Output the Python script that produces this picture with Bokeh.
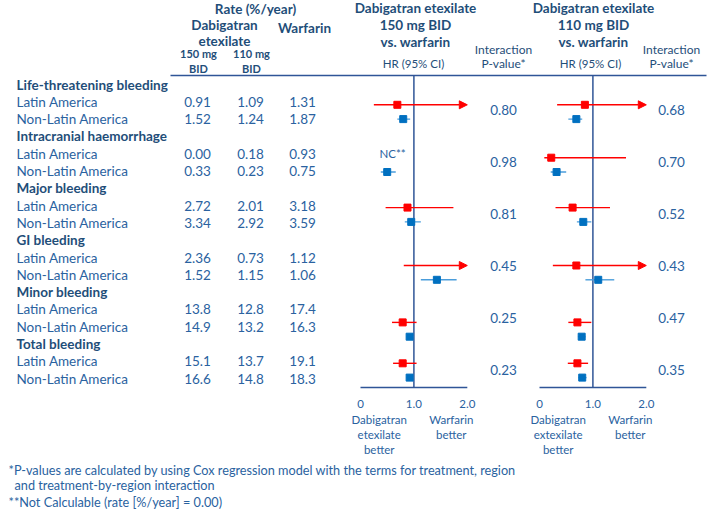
from bokeh.plotting import figure
from bokeh.models import Range1d, ColumnDataSource, Arrow, NormalHead
from bokeh.embed import file_html
from bokeh.resources import INLINE
from bokeh.core.properties import value

# ---------------- data ----------------
categories = ["Life-threatening bleeding", "Intracranial haemorrhage", "Major bleeding",
              "GI bleeding", "Minor bleeding", "Total bleeding"]
regions = ["Latin America", "Non-Latin America"]

rate_150 = [0.91, 1.52, 0.00, 0.33, 2.72, 3.34, 2.36, 1.52, 13.8, 14.9, 15.1, 16.6]
rate_110 = [1.09, 1.24, 0.18, 0.23, 2.01, 2.92, 0.73, 1.15, 12.8, 13.2, 13.7, 14.8]
rate_warf = [1.31, 1.87, 0.93, 0.75, 3.18, 3.59, 1.12, 1.06, 17.4, 16.3, 19.1, 18.3]

# HR (95% CI), 150 mg vs warfarin (None = not calculable)
hr_150 = [0.69, 0.80, None, 0.50, 0.88, 0.95, 2.20, 1.43, 0.79, 0.92, 0.79, 0.92]
lo_150 = [0.25, 0.69, None, 0.38, 0.47, 0.83, 0.81, 1.13, 0.59, 0.86, 0.61, 0.86]
hi_150 = [2.60, 0.93, None, 0.66, 1.74, 1.13, 6.00, 1.80, 1.05, 0.99, 1.05, 0.99]
# HR (95% CI), 110 mg vs warfarin
hr_110 = [0.85, 0.69, 0.22, 0.32, 0.62, 0.82, 0.69, 1.10, 0.71, 0.79, 0.71, 0.80]
lo_110 = [0.33, 0.54, 0.09, 0.21, 0.30, 0.70, 0.25, 0.86, 0.54, 0.72, 0.53, 0.73]
hi_110 = [2.20, 0.80, 1.62, 0.50, 1.32, 0.97, 2.40, 1.40, 0.97, 0.86, 0.91, 0.88]

p_150 = ["0.80", "0.98", "0.81", "0.45", "0.25", "0.23"]
p_110 = ["0.68", "0.70", "0.52", "0.43", "0.47", "0.35"]

axis_ticks = [0, 1, 2]
axis_tick_labels = ["0", "1.0", "2.0"]

# ---------------- style / layout ----------------
FONT = "Lato"
C_BOLD = "#1F4E79"
C_TXT = "#2A62A0"
C_LINE = "#2F5597"
C_RED = "#FF0000"
C_BLUE = "#0070C0"
C_BLUE_LINE = "#4A9DDB"
AX_MAX = 2.0

W, H = 708, 511
UNIT = 53.4
X0_F1, X0_F2 = 360.0, 539.0
ROW0, PITCH = 84.0, 17.3
forest_shift = [1, 2, 0, 6, 11, 0]

p = figure(width=W, height=H, x_range=Range1d(0, W), y_range=Range1d(H, 0),
           output_backend="svg", toolbar_location=None, min_border=0,
           x_axis_location=None, y_axis_location=None)
p.grid.visible = False
p.outline_line_color = None
p.extra_x_ranges = {
    "f1": Range1d((0 - X0_F1) / UNIT, (W - X0_F1) / UNIT),
    "f2": Range1d((0 - X0_F2) / UNIT, (W - X0_F2) / UNIT),
}


def txt(xs, ys, texts, size, bold=False, color=C_TXT, align="center", rng="default"):
    p.text(x=xs, y=ys, text=texts, text_font=value(FONT), text_font_size=f"{size}px",
           text_font_style="bold" if bold else "normal", text_color=color,
           text_align=align, text_baseline="middle", x_range_name=rng)


def row_y(i):
    return ROW0 + PITCH * i


def fmt(v):
    return f"{v:.2f}" if v < 10 else f"{v:.1f}"


# ---------------- table header ----------------
txt([255], [8], ["Rate (%/year)"], 13.5, bold=True, color=C_BOLD)
txt([224, 224], [24, 40], ["Dabigatran", "etexilate"], 13.5, bold=True, color=C_BOLD)
txt([304], [27], ["Warfarin"], 13.5, bold=True, color=C_BOLD)
txt([198, 198, 251, 251], [53, 68, 53, 68], ["150 mg", "BID", "110 mg", "BID"], 11,
    bold=True, color=C_BOLD)

p.segment(x0=[170], x1=[706], y0=[75], y1=[75], line_color=C_LINE, line_width=1.5)

# ---------------- table body ----------------
cat_y, lab_y, lab_t = [], [], []
for g, c in enumerate(categories):
    cat_y.append(row_y(3 * g))
    for r, reg in enumerate(regions):
        lab_y.append(row_y(3 * g + 1 + r))
        lab_t.append(reg)
txt([16] * len(categories), cat_y, categories, 13.5, bold=True, color=C_BOLD, align="left")
txt([16] * len(lab_t), lab_y, lab_t, 13.5, align="left")
txt([197] * len(rate_150), lab_y, [fmt(v) for v in rate_150], 13.5)
txt([250] * len(rate_110), lab_y, [fmt(v) for v in rate_110], 13.5)
txt([302] * len(rate_warf), lab_y, [fmt(v) for v in rate_warf], 13.5)


# ---------------- forest plots ----------------
def forest(rng, hr, lo, hi, pvals, title_x, hr_x, px, dose, better_word, nc_x=None):
    # headings
    txt([title_x] * 3, [7, 24, 41], ["Dabigatran etexilate", dose, "vs. warfarin"], 13.5,
        bold=True, color=C_BOLD)
    txt([hr_x], [63], ["HR (95% CI)"], 11.5, color=C_BOLD)
    txt([px, px], [49, 63], ["Interaction", "P-value*"], 12, color=C_BOLD)
    # reference line and axis
    p.segment(x0=[1], x1=[1], y0=[75], y1=[387], line_color=C_LINE, line_width=1.5,
              x_range_name=rng)
    p.segment(x0=[axis_ticks[0]], x1=[axis_ticks[-1]], y0=[387], y1=[387],
              line_color=C_LINE, line_width=1.5, x_range_name=rng)
    txt(axis_ticks, [403] * 3, axis_tick_labels, 11.5, rng=rng)
    txt([0.35] * 3, [419, 434, 449], ["Dabigatran", better_word, "better"], 11.5, rng=rng)
    txt([1.7] * 2, [419, 434], ["Warfarin", "better"], 11.5, rng=rng)

    for color, lcolor, r in ((C_RED, C_RED, 0), (C_BLUE, C_BLUE_LINE, 1)):
        xs0, xs1, ys, mx, my, ax0, ax1, ay = [], [], [], [], [], [], [], []
        for g in range(len(categories)):
            i = 2 * g + r
            y = row_y(3 * g + 1 + r) + forest_shift[g] + (2 if r == 0 else -1)
            if lo[i] is None:
                if nc_x is not None:
                    txt([nc_x], [row_y(3 * g + 1 + r)], ["NC**"], 11.5, rng=rng)
                continue
            if hi[i] > AX_MAX:
                ax0.append(lo[i]); ax1.append(AX_MAX); ay.append(y)
            else:
                xs0.append(lo[i]); xs1.append(hi[i]); ys.append(y)
            if hr[i] <= AX_MAX:
                mx.append(hr[i]); my.append(y)
        p.segment(x0=xs0, x1=xs1, y0=ys, y1=ys, line_color=lcolor, line_width=1.4,
                  x_range_name=rng)
        if ax0:
            src = ColumnDataSource(dict(x0=ax0, x1=ax1, y=ay))
            p.add_layout(Arrow(end=NormalHead(size=8, fill_color=lcolor, line_color=lcolor),
                               x_start="x0", x_end="x1", y_start="y", y_end="y",
                               source=src, line_color=lcolor, line_width=1.4,
                               x_range_name=rng))
        p.scatter(x=mx, y=my, marker="square", size=7, fill_color=color, line_color=color,
                  x_range_name=rng)

    pv_y = [(row_y(3 * g + 1) + row_y(3 * g + 2)) / 2 for g in range(len(categories))]
    txt([px] * len(pvals), pv_y, pvals, 13.5)


forest("f1", hr_150, lo_150, hi_150, p_150, 415, 413, 503, "150 mg BID", "etexilate", nc_x=0.6)
forest("f2", hr_110, lo_110, hi_110, p_110, 593, 590, 671, "110 mg BID", "extexilate")

# ---------------- footnotes ----------------
txt([8], [469], ["*P-values are calculated by using Cox regression model with the terms for treatment, region"],
    12.7, align="left")
txt([14], [484], ["and treatment-by-region interaction"], 12.7, align="left")
txt([8], [501], ["**Not Calculable (rate [%/year] = 0.00)"], 12.7, align="left")

open("out.html", "w").write(file_html(p, INLINE))
